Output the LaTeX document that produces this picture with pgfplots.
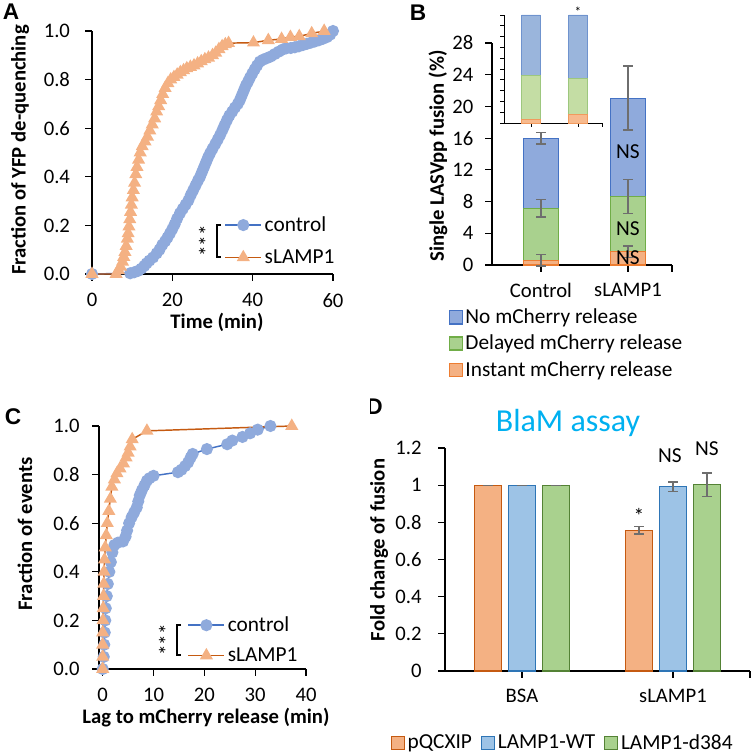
\documentclass[border=0pt]{standalone}
\usepackage{pgfplots}
\pgfplotsset{compat=1.18}
\usepackage{fontspec}
\setmainfont{Carlito}
\newfontfamily\arialfont{Liberation Sans}
\definecolor{ctrlL}{HTML}{4472C4}
\definecolor{ctrlM}{HTML}{8FAADC}
\definecolor{slL}{HTML}{C55A11}
\definecolor{slM}{HTML}{F4B183}
\definecolor{bBlue}{HTML}{8FAADC}
\definecolor{bBlueD}{HTML}{4472C4}
\definecolor{bGreen}{HTML}{A9D18E}
\definecolor{bGreenD}{HTML}{70AD47}
\definecolor{bOrange}{HTML}{F4B183}
\definecolor{bOrangeD}{HTML}{ED7D31}
\definecolor{iBlue}{HTML}{9AB5DC}
\definecolor{iBlueD}{HTML}{6F93CE}
\definecolor{iGreen}{HTML}{C4DDA4}
\definecolor{iGreenD}{HTML}{9DC77E}
\definecolor{iOrange}{HTML}{F7BA8E}
\definecolor{iOrangeD}{HTML}{F19A5D}
\definecolor{dOrange}{HTML}{F4B183}
\definecolor{dOrangeD}{HTML}{C55A11}
\definecolor{dBlue}{HTML}{9DC3E6}
\definecolor{dBlueD}{HTML}{2E75B6}
\definecolor{dGreen}{HTML}{A9D18E}
\definecolor{dGreenD}{HTML}{548235}
\definecolor{errgray}{HTML}{6E6E6E}
\definecolor{titlecyan}{HTML}{00B0F0}
\newcommand{\tickfont}{\fontsize{15.5}{18}\selectfont}
\newcommand{\txtfont}{\fontsize{16}{19}\selectfont}
\newcommand{\lblfont}{\bfseries\fontsize{15.5}{18}\selectfont}
\newcommand{\panelfont}{\arialfont\bfseries\fontsize{17}{20}\selectfont}
\pgfplotsset{
  base/.style={scale only axis, axis lines*=left,
    axis line style={-, line width=0.9pt, black},
    tick align=outside, tick pos=left,
    major tick style={line width=0.9pt, black}, major tick length=5pt,
    xticklabel style={font=\tickfont}, yticklabel style={font=\tickfont},
    /pgf/number format/assume math mode=true, clip=false, anchor=south west},
  lineleg/.style={legend image code/.code={\draw[mark repeat=2,mark phase=2,##1] plot coordinates {(0pt,0pt) (13.5pt,0pt) (27pt,0pt)};}},
  sqleg/.style={legend image code/.code={\draw[##1, line width=0.9pt] (0pt,-4.9pt) rectangle (9.8pt,4.9pt);}},
  ctrlstyle/.style={color=ctrlL, line width=1.1pt, mark=*, mark size=4pt, mark options={draw=ctrlM, fill=ctrlM}},
  slstyle/.style={color=slL, line width=1.1pt, mark=triangle*, mark size=4.6pt, mark options={draw=slM, fill=slM}},
}
\begin{document}
\begin{tikzpicture}
\path[use as bounding box] (0,0) rectangle (563.25pt,565.5pt);

% ---------------- Panel A ----------------
\begin{axis}[base, at={(69pt,360pt)}, width=180.75pt, height=182.25pt,
  xmin=0, xmax=60, ymin=0, ymax=1,
  xtick={0,20,40,60}, ytick={0,0.2,0.4,0.6,0.8,1},
  yticklabel style={xshift=-8pt, /pgf/number format/.cd, fixed, fixed zerofill, precision=1},
  xticklabel style={yshift=-6pt},
  lineleg, legend cell align=left,
  legend style={at={(0.549,0.136)}, anchor=west, draw=none, fill=none, inner sep=0pt,
    nodes={inner sep=2pt}, font=\txtfont, row sep=8pt}]
\addplot[ctrlstyle] coordinates {
(0,0) (9.5,0.003) (10.5,0.007) (11.5,0.013) (12.3,0.022) (13,0.033) (13.6,0.044)
(14.3,0.055) (15.2,0.068) (16.1,0.085) (16.8,0.1) (17.5,0.12) (18.2,0.135) (18.8,0.15)
(19.4,0.167) (20,0.185) (20.6,0.205) (21.2,0.228) (21.9,0.25) (22.6,0.268) (23.3,0.285)
(24,0.303) (24.6,0.325) (25.2,0.345) (25.8,0.365) (26.4,0.385) (26.9,0.4) (27.4,0.42)
(27.9,0.44) (28.4,0.46) (28.9,0.48) (29.4,0.497) (30,0.515) (30.7,0.535) (31.3,0.553)
(31.9,0.572) (32.5,0.593) (33,0.612) (33.6,0.633) (34.2,0.652) (34.9,0.668) (35.6,0.685)
(36.3,0.7) (36.8,0.715) (37.3,0.735) (37.8,0.755) (38.3,0.775) (38.8,0.79) (39.3,0.807)
(39.9,0.825) (40.5,0.842) (41.1,0.858) (41.8,0.874) (42.6,0.882) (43.5,0.888) (44.5,0.895)
(45.5,0.905) (46.5,0.915) (47.5,0.924) (48.4,0.929) (49.5,0.93) (50.5,0.933) (51.5,0.937)
(52.5,0.942) (53.5,0.947) (54.5,0.952) (55.5,0.957) (56.5,0.962) (57.5,0.968) (58.5,0.975)
(59.3,0.985) (60,1.0)};
\addlegendentry{control}
\addplot[slstyle] coordinates {
(0,0) (6,0) (6.6,0.015) (7.1,0.03) (7.6,0.05) (7.9,0.07) (8.2,0.09) (8.5,0.115) (8.8,0.145)
(9.0,0.167) (9.2,0.195) (9.4,0.225) (9.6,0.255) (9.8,0.285) (10.0,0.315) (10.3,0.345)
(10.6,0.375) (10.9,0.41) (11.2,0.44) (11.6,0.47) (12.0,0.5) (12.5,0.525) (13.2,0.545)
(13.8,0.565) (14.4,0.59) (15.0,0.615) (15.6,0.64) (16.1,0.668) (16.6,0.69) (17.1,0.715)
(17.6,0.74) (18.2,0.765) (18.9,0.785) (19.6,0.8) (20.4,0.81) (21.2,0.82) (22.0,0.83)
(22.8,0.838) (23.6,0.846) (24.5,0.852) (25.4,0.858) (26.3,0.866) (27.2,0.875) (28.1,0.883)
(29.0,0.89) (30.0,0.9) (30.8,0.91) (31.6,0.925) (32.4,0.937) (33.2,0.945) (34,0.95)
(40.2,0.952) (43.9,0.962) (47.2,0.967) (49.4,0.975) (51.6,0.978) (54.7,0.99) (57.8,1.0)};
\addlegendentry{sLAMP1}
\end{axis}
\draw[line width=0.8pt] (165.75pt,396.75pt) -- (162.75pt,396.75pt) -- (162.75pt,372.75pt) -- (165.75pt,372.75pt);
\node[rotate=90, font=\txtfont, inner sep=0pt] at (155pt,384.75pt) {***};
\node[rotate=90, font=\lblfont] at (15pt,453pt) {Fraction of YFP de-quenching};
\node[font=\lblfont] at (162.75pt,324pt) {Time (min)};
\node[font=\panelfont] at (8.25pt,556.5pt) {A};

% ---------------- Panel B ----------------
\begin{axis}[base, at={(369pt,366.75pt)}, width=135pt, height=166.5pt,
  ybar stacked, bar width=0.4,
  xmin=-0.563, xmax=1.506, ymin=0, ymax=28,
  xtick={0,1}, xticklabels={Control,sLAMP1}, ytick={0,4,8,12,16,20,24,28},
  extra x ticks={1.506}, extra x tick labels={},
  yticklabel style={xshift=-5.5pt}, xticklabel style={yshift=-5pt},
  reverse legend, legend cell align=left,
  legend style={at={(-0.243,-0.185)}, anchor=north west, draw=none, fill=none, inner sep=0pt,
    nodes={inner sep=2pt}, font=\txtfont, row sep=3pt}]
\addplot[fill=bOrange, draw=bOrangeD, line width=0.9pt, sqleg] coordinates {(0,0.6) (1,1.68)};
\addlegendentry{Instant mCherry release}
\addplot[fill=bGreen, draw=bGreenD, line width=0.9pt, sqleg] coordinates {(0,6.55) (1,6.94)};
\addlegendentry{Delayed mCherry release}
\addplot[fill=bBlue, draw=bBlueD, line width=0.9pt, sqleg] coordinates {(0,8.85) (1,12.43)};
\addlegendentry{No mCherry release}
\end{axis}
\begin{axis}[scale only axis, hide axis, anchor=south west, at={(369pt,366.75pt)}, width=135pt, height=166.5pt,
  xmin=-0.563, xmax=1.506, ymin=0, ymax=28, clip=false]
\addplot[draw=none, mark=none, forget plot, error bars/.cd, y dir=both, y explicit,
  error bar style={draw=errgray, line width=1.1pt},
  error mark options={rotate=90, mark size=3.5pt, draw=errgray, line width=1.1pt}]
  coordinates {(0,0.6) +- (0,0.75) (0,7.15) +- (0,1.12) (0,16.0) +- (0,0.72)
               (1,1.68) +- (0,0.72) (1,8.65) +- (0,2.15) (1,21.05) +- (0,4.05)};
\node[font=\txtfont] at (axis cs:1,14.25) {NS};
\node[font=\txtfont] at (axis cs:1,4.54) {NS};
\node[font=\txtfont] at (axis cs:1,0.88) {NS};
\end{axis}
% inset
\begin{axis}[base, at={(378pt,473.25pt)}, width=73.5pt, height=81pt,
  ybar stacked, bar width=0.4,
  axis line style={-, line width=0.7pt, black}, major tick style={line width=0.7pt, black}, major tick length=3pt,
  xmin=-0.574, xmax=1.51, ymin=0, ymax=100,
  xtick={0,1}, xticklabels={}, ytick={0,10,20,30,40,50,60,70,80,90,100}, yticklabels={},
  extra x ticks={1.51}, extra x tick labels={}]
\addplot[fill=iOrange, draw=iOrangeD, line width=0.7pt] coordinates {(0,3.4) (1,8.0)};
\addplot[fill=iGreen, draw=iGreenD, line width=0.7pt] coordinates {(0,40.4) (1,33.0)};
\addplot[fill=iBlue, draw=iBlueD, line width=0.7pt] coordinates {(0,56.2) (1,59.0)};
\node[font=\fontsize{10}{12}\selectfont, inner sep=0pt] at (axis cs:1,103) {*};
\end{axis}
\node[rotate=90, font=\lblfont] at (328.5pt,448.5pt) {Single LASVpp fusion (\%)};
\node[font=\panelfont] at (313.5pt,555.75pt) {B};

% ---------------- Panel C ----------------
\begin{axis}[base, at={(74.25pt,63.75pt)}, width=155.25pt, height=182.25pt,
  xmin=-0.73, xmax=40, ymin=0, ymax=1,
  xtick={0,10,20,30,40}, ytick={0,0.2,0.4,0.6,0.8,1},
  yticklabel style={xshift=-6pt, /pgf/number format/.cd, fixed, fixed zerofill, precision=1},
  xticklabel style={yshift=-6pt},
  lineleg, legend cell align=left,
  legend style={at={(0.427,0.119)}, anchor=west, draw=none, fill=none, inner sep=0pt,
    nodes={inner sep=2pt}, font=\txtfont, row sep=6.5pt}]
\addplot[ctrlstyle] coordinates {
(0,0) (0.2,0.05) (0.3,0.1) (0.4,0.15) (0.5,0.2) (0.6,0.25) (0.8,0.3) (1.0,0.35) (1.3,0.4)
(1.6,0.44) (1.9,0.48) (2.3,0.51) (3.0,0.52) (4.0,0.525) (4.5,0.545) (4.8,0.57) (5.2,0.6)
(5.7,0.625) (6.2,0.645) (6.7,0.665) (7.0,0.69) (7.3,0.715) (7.7,0.735) (8.2,0.755)
(8.7,0.775) (9.2,0.785) (10.0,0.795) (14.8,0.81) (15.5,0.82) (16.2,0.835) (16.8,0.85)
(17.3,0.87) (17.7,0.885) (20.5,0.905) (24.5,0.925) (25.5,0.94) (27.5,0.955) (29,0.97)
(30.5,0.985) (33,1.0)};
\addlegendentry{control}
\addplot[slstyle] coordinates {
(0,0) (0,0.05) (0,0.1) (0,0.15) (0.05,0.2) (0.1,0.25) (0.15,0.3) (0.2,0.35) (0.25,0.4)
(0.35,0.45) (0.5,0.5) (0.7,0.55) (0.9,0.6) (1.2,0.65) (1.5,0.7) (1.8,0.75) (2.3,0.78)
(2.8,0.805) (3.4,0.825) (4.1,0.845) (4.6,0.87) (5.0,0.89) (5.4,0.915) (5.8,0.945)
(8.7,0.98) (37.2,1.0)};
\addlegendentry{sLAMP1}
\end{axis}
\draw[line width=0.8pt] (135.75pt,96.75pt) -- (132.75pt,96.75pt) -- (132.75pt,74.25pt) -- (135.75pt,74.25pt);
\node[rotate=90, font=\txtfont, inner sep=0pt] at (125pt,85.5pt) {***};
\node[rotate=90, font=\lblfont] at (18.75pt,165pt) {Fraction of events};
\node[font=\lblfont] at (154.5pt,27pt) {Lag to mCherry release (min)};
\node[font=\panelfont] at (9.75pt,252.75pt) {C};

% ---------------- Panel D ----------------
\begin{axis}[base, at={(333.75pt,62.25pt)}, width=228.75pt, height=167.25pt,
  ybar, bar width=0.181,
  xmin=-0.51, xmax=1.51, ymin=0, ymax=1.2,
  xtick={0,1}, xticklabels={BSA,sLAMP1}, ytick={0,0.2,0.4,0.6,0.8,1,1.2},
  extra x ticks={1.51}, extra x tick labels={},
  yticklabel style={xshift=-9pt}, xticklabel style={yshift=-5pt},
  legend columns=3,
  legend style={at={(-0.179,-0.323)}, anchor=west, draw=none, fill=none, inner sep=0pt,
    nodes={inner sep=2pt}, font=\txtfont, /tikz/every even column/.append style={column sep=4.7pt}}]
\addplot[fill=dOrange, draw=dOrangeD, line width=0.9pt, bar shift=-0.225, sqleg,
  error bars/.cd, y dir=both, y explicit, error bar style={errgray, line width=1pt},
  error mark options={rotate=90, mark size=3.5pt, errgray, line width=1pt}]
  coordinates {(0,1) +- (0,0) (1,0.758) +- (0,0.021)};
\addlegendentry{pQCXIP}
\addplot[fill=dBlue, draw=dBlueD, line width=0.9pt, bar shift=0, sqleg,
  error bars/.cd, y dir=both, y explicit, error bar style={errgray, line width=1pt},
  error mark options={rotate=90, mark size=3.5pt, errgray, line width=1pt}]
  coordinates {(0,1) +- (0,0) (1,0.992) +- (0,0.025)};
\addlegendentry{LAMP1-WT}
\addplot[fill=dGreen, draw=dGreenD, line width=0.9pt, bar shift=0.225, sqleg,
  error bars/.cd, y dir=both, y explicit, error bar style={errgray, line width=1pt},
  error mark options={rotate=90, mark size=3.5pt, errgray, line width=1pt}]
  coordinates {(0,1) +- (0,0) (1,1.003) +- (0,0.063)};
\addlegendentry{LAMP1-d384}
\node[font=\txtfont] at (axis cs:0.775,0.834) {*};
\node[font=\txtfont] at (axis cs:0.98,1.157) {NS};
\node[font=\txtfont] at (axis cs:1.225,1.195) {NS};
\end{axis}
\node[rotate=90, font=\lblfont] at (284.25pt,153pt) {Fold change of fusion};
\node[font=\fontsize{24}{28}\selectfont, text=titlecyan] at (426pt,248.25pt) {BlaM assay};
\begin{scope}
\clip (277.5pt,240pt) rectangle (300pt,280pt);
\node[font=\panelfont] at (280.9pt,260.25pt) {D};
\end{scope}
\end{tikzpicture}
\end{document}
